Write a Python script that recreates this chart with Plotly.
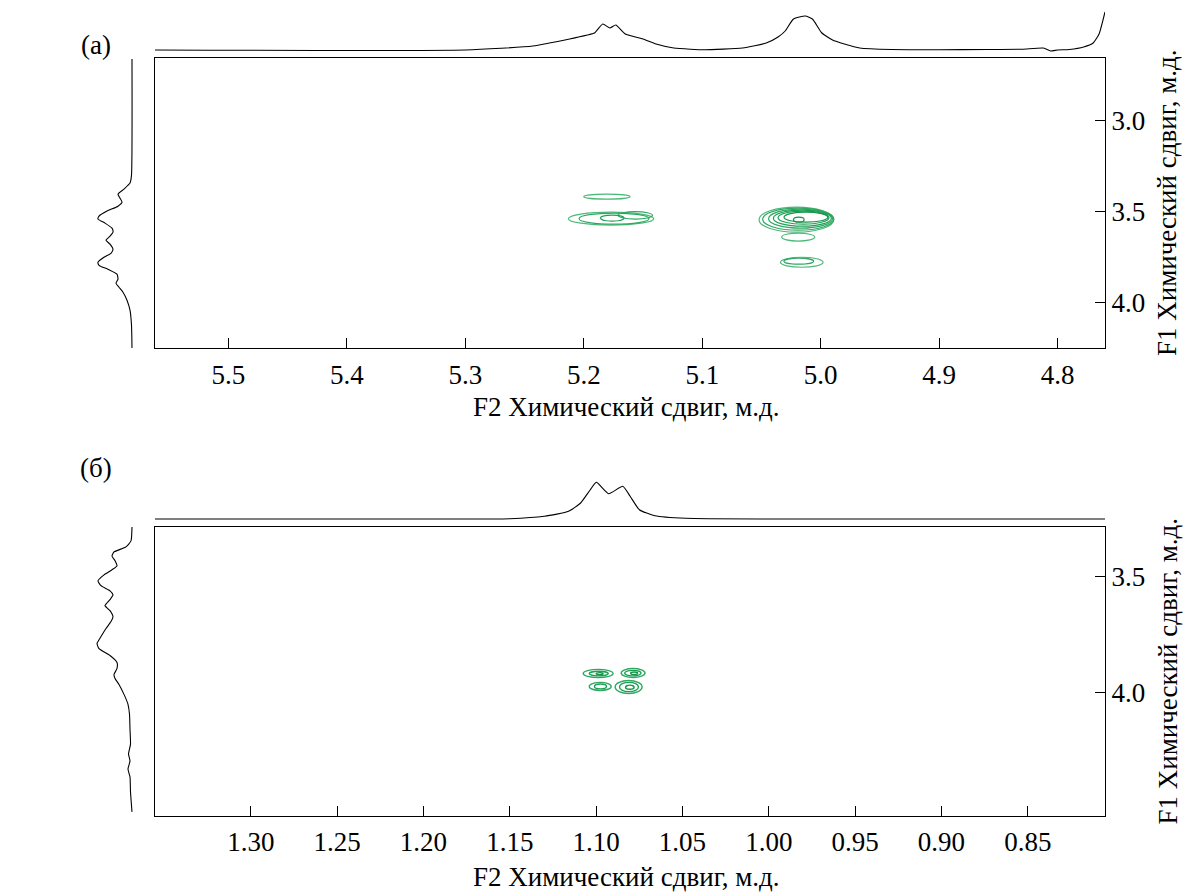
import plotly.graph_objects as go

W, H = 1183, 892

# ---------------- data: panel (a) ----------------
a_top_ppm = [5.562, 5.30, 5.243, 5.212, 5.197, 5.191, 5.184, 5.178, 5.173, 5.165, 5.150, 5.139,
             5.124, 5.110, 5.098, 5.066, 5.046, 5.036, 5.030, 5.023, 5.013, 5.007, 4.999, 4.990,
             4.980, 4.967, 4.94, 4.90, 4.86, 4.83, 4.812, 4.806, 4.800, 4.790, 4.778, 4.770,
             4.765, 4.760]
a_top_int = [0, 0, 4, 11, 15, 17, 26, 22, 25, 16, 11, 6,
             2, 0.8, 0.3, 2, 7, 13, 19, 31, 34, 31, 17, 10,
             6, 2, 0.5, 0.3, 0.5, 0.8, 2, -1, 0, 0.5, 3, 7,
             16, 38]

a_left_ppm = [2.66, 3.299, 3.343, 3.376, 3.404, 3.426, 3.448, 3.470, 3.497, 3.525, 3.541, 3.563,
              3.591, 3.613, 3.635, 3.657, 3.679, 3.707, 3.729, 3.751, 3.778, 3.795, 3.817, 3.844,
              3.871, 3.894, 3.916, 3.943, 3.987, 4.042, 4.125, 4.250]
a_left_int = [0, 0.5, 2, 8, 14, 12, 10, 14, 25, 33, 34, 27,
              20, 19, 22, 26, 22, 19, 21, 28, 34, 33, 24, 15,
              14, 16, 13, 9, 5, 2, 0.5, 0]

a_x_ticks = [5.5, 5.4, 5.3, 5.2, 5.1, 5.0, 4.9, 4.8]
a_y_ticks = [3.0, 3.5, 4.0]

# contour rings (a): ellipse bounds in ppm and contour level
a_ring_x0 = [5.200, 5.213, 5.204, 5.171, 5.186, 5.052, 5.049, 5.044, 5.040, 5.036, 5.031, 5.023, 5.033, 5.034, 5.031]
a_ring_x1 = [5.161, 5.141, 5.145, 5.142, 5.166, 4.989, 4.989, 4.990, 4.991, 4.993, 4.994, 5.014, 5.005, 4.998, 5.006]
a_ring_y0 = [3.404, 3.503, 3.508, 3.500, 3.519, 3.475, 3.481, 3.486, 3.492, 3.497, 3.503, 3.530, 3.618, 3.751, 3.756]
a_ring_y1 = [3.431, 3.574, 3.569, 3.541, 3.552, 3.613, 3.602, 3.591, 3.580, 3.569, 3.558, 3.558, 3.662, 3.806, 3.789]
a_ring_lv = [0, 0, 1, 1, 2, 0, 1, 1, 2, 2, 3, 3, 0, 0, 1]

# ---------------- data: panel (б) ----------------
b_top_ppm = [1.3555, 1.20, 1.15, 1.130, 1.116, 1.109, 1.1035, 1.0999, 1.0928, 1.0846, 1.0803,
             1.075, 1.066, 1.048, 1.00, 0.805]
b_top_int = [0, 0, 0.3, 2.7, 7.7, 16, 29, 36.7, 25.3, 32.7, 22.7,
             9.3, 3.3, 0.7, 0, 0]

b_left_ppm = [3.2815, 3.346, 3.372, 3.394, 3.411, 3.432, 3.454, 3.471, 3.493, 3.519, 3.540, 3.562,
              3.579, 3.600, 3.626, 3.648, 3.674, 3.695, 3.725, 3.760, 3.790, 3.812, 3.842, 3.872,
              3.898, 3.924, 3.941, 3.967, 4.010, 4.053, 4.096, 4.161, 4.225, 4.268, 4.298, 4.333,
              4.367, 4.432, 4.518]
b_left_int = [0, 1, 6, 18, 20, 17, 15, 20, 28, 34, 31, 22,
              19, 22, 27, 22, 19, 21, 26, 31, 35, 33, 22, 15,
              15, 18, 17, 13, 8, 4, 2.5, 2, 1.5, 3.5, 2, 4,
              2, 1.5, 0]

b_x_ticks = [1.30, 1.25, 1.20, 1.15, 1.10, 1.05, 1.00, 0.95, 0.90, 0.85]
b_y_ticks = [3.5, 4.0]

b_ring_x0 = [1.1075, 1.1040, 1.1000, 1.0855, 1.0835, 1.0800, 1.1040, 1.1010, 1.0890, 1.0865, 1.0830]
b_ring_x1 = [1.0902, 1.0930, 1.0960, 1.0717, 1.0740, 1.0760, 1.0913, 1.0940, 1.0734, 1.0755, 1.0780]
b_ring_y0 = [3.902, 3.910, 3.916, 3.898, 3.906, 3.913, 3.958, 3.965, 3.950, 3.958, 3.970]
b_ring_y1 = [3.937, 3.930, 3.925, 3.937, 3.930, 3.924, 3.993, 3.986, 4.006, 3.998, 3.988]
b_ring_lv = [1, 2, 3, 1, 2, 3, 1, 2, 1, 2, 3]

# ---------------- layout helpers ----------------
ring_colors = ["#4cb87a", "#2ea862", "#1f9f55", "#139449"]
FONT = "Liberation Serif, Times New Roman, serif"
FS = 27

def px_x(p):
    return p / W

def px_y(p):
    return 1 - p / H

BOX_L, BOX_R = 155, 1105
A_TOP, A_BOT = 58, 348
B_TOP, B_BOT = 527, 816

fig = go.Figure()

line_style = dict(color="black", width=1.1, shape="spline", smoothing=0.5)

fig.add_trace(go.Scatter(x=a_top_ppm, y=a_top_int, mode="lines", line=line_style,
                         xaxis="x2", yaxis="y2", hoverinfo="skip"))
fig.add_trace(go.Scatter(x=a_left_int, y=a_left_ppm, mode="lines", line=line_style,
                         xaxis="x3", yaxis="y3", hoverinfo="skip"))
fig.add_trace(go.Scatter(x=[5.3], y=[3.2], mode="markers", marker=dict(opacity=0),
                         xaxis="x", yaxis="y", hoverinfo="skip"))
fig.add_trace(go.Scatter(x=b_top_ppm, y=b_top_int, mode="lines", line=line_style,
                         xaxis="x5", yaxis="y5", hoverinfo="skip"))
fig.add_trace(go.Scatter(x=b_left_int, y=b_left_ppm, mode="lines", line=line_style,
                         xaxis="x6", yaxis="y6", hoverinfo="skip"))
fig.add_trace(go.Scatter(x=[1.2], y=[3.5], mode="markers", marker=dict(opacity=0),
                         xaxis="x4", yaxis="y4", hoverinfo="skip"))

shapes = []
for x0, x1, y0, y1, lv in zip(a_ring_x0, a_ring_x1, a_ring_y0, a_ring_y1, a_ring_lv):
    shapes.append(dict(type="circle", xref="x", yref="y", x0=x0, x1=x1, y0=y0, y1=y1,
                       line=dict(color=ring_colors[lv], width=1.2)))
for x0, x1, y0, y1, lv in zip(b_ring_x0, b_ring_x1, b_ring_y0, b_ring_y1, b_ring_lv):
    shapes.append(dict(type="circle", xref="x4", yref="y4", x0=x0, x1=x1, y0=y0, y1=y1,
                       line=dict(color=ring_colors[lv], width=1.4)))

main_ax = dict(showline=True, linecolor="black", linewidth=1.2, mirror=True, ticks="inside",
               ticklen=10, tickwidth=1.2, tickcolor="black", showgrid=False, zeroline=False,
               tickfont=dict(family=FONT, size=FS, color="black"))
hidden = dict(visible=False, showgrid=False, zeroline=False)

xdom = [px_x(BOX_L), px_x(BOX_R)]
ldom = [px_x(90), px_x(134)]

fig.update_layout(
    width=W, height=H, margin=dict(l=0, r=0, t=0, b=0),
    paper_bgcolor="white", plot_bgcolor="white", showlegend=False,
    font=dict(family=FONT, size=FS, color="black"),
    shapes=shapes,
    # panel (a)
    xaxis=dict(main_ax, domain=xdom, range=[5.562, 4.760], anchor="y",
               tickvals=a_x_ticks, tickformat=".1f", ticklabelstandoff=2),
    yaxis=dict(main_ax, domain=[px_y(A_BOT), px_y(A_TOP)], range=[4.250, 2.655], anchor="x",
               side="right", tickvals=a_y_ticks, tickformat=".1f"),
    xaxis2=dict(hidden, domain=xdom, range=[5.562, 4.760], anchor="y2"),
    yaxis2=dict(hidden, domain=[px_y(52), px_y(8)], range=[-2, 42], anchor="x2"),
    xaxis3=dict(hidden, domain=ldom, range=[42, -2], anchor="y3"),
    yaxis3=dict(hidden, domain=[px_y(A_BOT), px_y(A_TOP)], range=[4.250, 2.655], anchor="x3"),
    # panel (б)
    xaxis4=dict(main_ax, domain=xdom, range=[1.3555, 0.8053], anchor="y4",
                tickvals=b_x_ticks, tickformat=".2f", ticklabelstandoff=1),
    yaxis4=dict(main_ax, domain=[px_y(B_BOT), px_y(B_TOP)], range=[4.536, 3.286], anchor="x4",
                side="right", tickvals=b_y_ticks, tickformat=".1f"),
    xaxis5=dict(hidden, domain=xdom, range=[1.3555, 0.8053], anchor="y5"),
    yaxis5=dict(hidden, domain=[px_y(521), px_y(475)], range=[-2, 44], anchor="x5"),
    xaxis6=dict(hidden, domain=ldom, range=[42, -2], anchor="y6"),
    yaxis6=dict(hidden, domain=[px_y(B_BOT), px_y(B_TOP)], range=[4.536, 3.286], anchor="x6"),
)

ann = []
ann.append(dict(text="(а)", x=px_x(96), y=px_y(45), xref="paper", yref="paper",
                showarrow=False, xanchor="center", yanchor="middle", font=dict(family=FONT, size=FS)))
ann.append(dict(text="(б)", x=px_x(96), y=px_y(468), xref="paper", yref="paper",
                showarrow=False, xanchor="center", yanchor="middle", font=dict(family=FONT, size=FS)))
ann.append(dict(text="F2 Химический сдвиг, м.д.", x=px_x(626), y=px_y(407), xref="paper", yref="paper",
                showarrow=False, xanchor="center", yanchor="middle", font=dict(family=FONT, size=FS)))
ann.append(dict(text="F2 Химический сдвиг, м.д.", x=px_x(626), y=px_y(877), xref="paper", yref="paper",
                showarrow=False, xanchor="center", yanchor="middle", font=dict(family=FONT, size=FS)))
ann.append(dict(text="F1 Химический сдвиг, м.д.", x=px_x(1167), y=px_y((A_TOP + A_BOT) / 2),
                xref="paper", yref="paper", textangle=-90,
                showarrow=False, xanchor="center", yanchor="middle", font=dict(family=FONT, size=FS)))
ann.append(dict(text="F1 Химический сдвиг, м.д.", x=px_x(1167), y=px_y((B_TOP + B_BOT) / 2),
                xref="paper", yref="paper", textangle=-90,
                showarrow=False, xanchor="center", yanchor="middle", font=dict(family=FONT, size=FS)))
fig.update_layout(annotations=ann)

fig.write_html("out.html")
